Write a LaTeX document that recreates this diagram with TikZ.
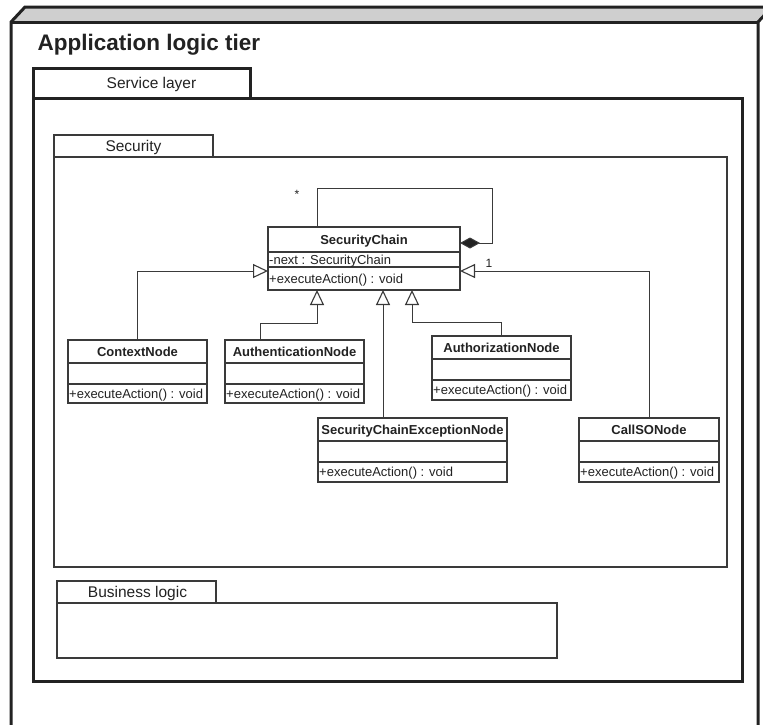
\documentclass[tikz,border=0pt]{standalone}
\usepackage{fontspec}
\setmainfont{Liberation Sans}
\usetikzlibrary{arrows.meta,calc}

\definecolor{ink}{HTML}{222222}
\definecolor{linegray}{HTML}{3A3A3A}
\definecolor{topgray}{HTML}{CFCFCF}

\tikzset{
  heavy/.style={draw=ink, line width=3pt},
  heavybox/.style={heavy, fill=white, rectangle, inner sep=0pt, outer sep=0pt, anchor=north west},
  pkgbox/.style={draw=linegray, line width=1.2pt, fill=white, rectangle, inner sep=0pt, outer sep=0pt, anchor=north west},
  classbox/.style={draw=linegray, line width=1.3pt, fill=white, rectangle, inner sep=0pt, outer sep=0pt, anchor=north west},
  divider/.style={draw=linegray, line width=1.1pt},
  pkglabel/.style={font=\fontsize{15.5}{18}\selectfont, text=ink, inner sep=0pt, anchor=base},
  classtitle/.style={font=\fontsize{13}{15}\selectfont\bfseries, text=ink, inner sep=0pt, anchor=base},
  member/.style={font=\fontsize{13}{15}\selectfont, text=ink, inner sep=0pt, anchor=base west},
  link/.style={draw=linegray, line width=1pt},
  generalizes/.style={link, -{Triangle[open, length=15pt, width=14pt, fill=white, line width=1.1pt]}},
  composes/.style={link, -{Diamond[length=20pt, width=11pt, fill=ink, line width=1pt]}},
  mult/.style={font=\fontsize{12}{14}\selectfont, text=ink, inner sep=0pt},
}

% UML class box with three compartments
% #1 name, #2 top-left corner, #3 width, #4 height,
% #5 first divider offset, #6 second divider offset,
% #7 class name, #8 attribute, #9 operation
\newcommand\umlclass[9]{%
  \node[classbox, minimum width=#3pt, minimum height=#4pt] (#1) at #2 {};
  \draw[divider] ([yshift=-#5pt]#1.north west) -- ([yshift=-#5pt]#1.north east);
  \draw[divider] ([yshift=-#6pt]#1.north west) -- ([yshift=-#6pt]#1.north east);
  \node[classtitle] (#1-title) at ($(#1.north)+(0,{#5/2+4.7})$) {#7};
  \node[member] (#1-attr) at ($(#1.north west)+(1,{(#5+#6)/2+4.7})$) {#8};
  \node[member] (#1-op) at ($(#1.north west)+(1,{(#6+#4)/2+4.7})$) {#9};
}

\begin{document}
\begin{tikzpicture}[x=1pt, y=-1pt]
  \useasboundingbox (0,0) rectangle (763,724);
  \clip (0,0) rectangle (763,724);

  % deployment node "Application logic tier" (3D box)
  \fill[topgray] (11,22) -- (25,7) -- (772,7) -- (758,22) -- cycle;
  \draw[heavy, line join=miter] (11,740) -- (11,22) -- (25,7) -- (772,7) -- (772,740);
  \draw[heavy] (11,22) -- (758,22);
  \draw[heavy, line join=miter] (758,740) -- (758,22) -- (772,7);
  \node[anchor=base west, font=\fontsize{22.5}{26}\selectfont\bfseries, text=ink, inner sep=0pt]
    (tier-name) at (37.5,50) {Application logic tier};

  % package "Service layer"
  \node[heavybox, minimum width=217pt, minimum height=30pt] (service-tab) at (33,68) {};
  \node[heavybox, minimum width=709pt, minimum height=583pt] (service) at (33,98) {};
  \node[pkglabel] (service-name) at (151.5,88.5) {Service layer};

  % package "Security"
  \node[pkgbox, minimum width=159pt, minimum height=22pt] (security-tab) at (54,135) {};
  \node[pkgbox, minimum width=673pt, minimum height=410pt] (security) at (54,157) {};
  \node[pkglabel] (security-name) at (133.5,151.5) {Security};

  % package "Business logic"
  \node[pkgbox, minimum width=159pt, minimum height=22pt] (business-tab) at (57,581) {};
  \node[pkgbox, minimum width=500pt, minimum height=55pt] (business) at (57,603) {};
  \node[pkglabel] (business-name) at (137.5,597) {Business logic};

  % classes
  \umlclass{sc}{(268,227)}{192}{63}{25}{40}{SecurityChain}{-next : SecurityChain}{+executeAction() : void}
  \umlclass{ctx}{(68,340)}{139}{63}{23}{44}{ContextNode}{}{+executeAction() : void}
  \umlclass{auth}{(225,340)}{139}{63}{23}{44}{AuthenticationNode}{}{+executeAction() : void}
  \umlclass{authz}{(432,336)}{139}{64}{23}{44}{AuthorizationNode}{}{+executeAction() : void}
  \umlclass{scen}{(318,418)}{189}{64}{23}{44}{SecurityChainExceptionNode}{}{+executeAction() : void}
  \umlclass{callso}{(579,418)}{140}{64}{23}{44}{CallSONode}{}{+executeAction() : void}

  % attachment points on SecurityChain
  \coordinate (sc-foot-a) at ($(sc.south west)+(49,0)$);
  \coordinate (sc-foot-b) at ($(sc.south west)+(115,0)$);
  \coordinate (sc-foot-c) at ($(sc.south west)+(144,0)$);
  \coordinate (sc-top) at ($(sc.north west)+(49,0)$);
  \coordinate (auth-up) at ($(auth.north west)+(35,0)$);
  \coordinate (loop-corner) at (492,188);

  % generalizations
  \draw[generalizes] (ctx.north) |- ([yshift=-44pt]sc.north west);
  \draw[generalizes] (callso.north) |- ([yshift=-44pt]sc.north east);
  \draw[generalizes] (auth-up) -- ++(0,-17) -| (sc-foot-a);
  \draw[generalizes] (sc-foot-b |- scen.north) -- (sc-foot-b);
  \draw[generalizes] (authz.north) -- ++(0,-14) -| (sc-foot-c);

  % self composition (next)
  \draw[composes] (sc-top) |- (loop-corner) |- ([yshift=-16pt]sc.north east);
  \node[mult] (many) at (297,194) {*};
  \node[mult] (one) at (489,263) {1};
\end{tikzpicture}
\end{document}
